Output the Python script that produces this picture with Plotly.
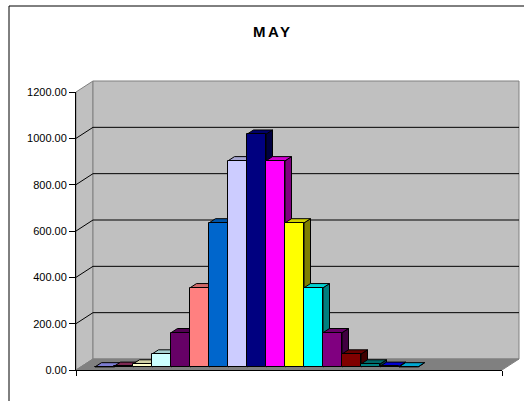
import plotly.graph_objects as go

# ---- data ----
series = [f"S{i}" for i in range(1, 18)]
values = [0.5, 3, 13, 56, 148, 342, 622, 890, 1005, 890, 622, 342, 148, 56, 13, 3, 0.5]
colors = ["#9999FF", "#993366", "#FFFFCC", "#CCFFFF", "#660066", "#FF8080",
          "#0066CC", "#CCCCFF", "#000080", "#FF00FF", "#FFFF00", "#00FFFF",
          "#800080", "#800000", "#008080", "#0000FF", "#00CCFF"]
y_ticks = [0, 200, 400, 600, 800, 1000, 1200]
title = "MAY"

# ---- geometry (pixels) ----
FW, FH = 524, 401
PL, PR, PT, PB = 76, 502, 92, 370      # front plane of the 3D box
W, H = PR - PL, PB - PT
YMAX = 1200
WDX, WDY = 17, 11                      # depth offset of back wall
BAR_PX = 19                            # bar width in pixels
BAR_START = 95                         # pixel left edge of first bar
BAR_LIFT = 3                           # bars sit slightly behind the front plane
BDX, BDY = 6.5, 4.2                    # bar depth offset
px_per_unit = H / YMAX


def shade(hexc, f):
    h = hexc.lstrip("#")
    r, g, b = (int(h[i:i + 2], 16) for i in (0, 2, 4))
    return "rgb(%d,%d,%d)" % (r * f, g * f, b * f)


def pxx(px):
    return (px - PL) / W


def pxy(py):
    return (PB - py) / H


shapes = []
WALL = "#C0C0C0"
EDGE = "#808080"
dxp = WDX / W
dyp = WDY / H

# left wall
shapes.append(dict(type="path", xref="paper", yref="paper", layer="below",
                   path=f"M 0,0 L 0,1 L {dxp},{1 + dyp} L {dxp},{dyp} Z",
                   fillcolor=WALL, line=dict(color=EDGE, width=1)))
# back wall
shapes.append(dict(type="rect", xref="paper", yref="paper", layer="below",
                   x0=dxp, x1=1 + dxp, y0=dyp, y1=1 + dyp,
                   fillcolor=WALL, line=dict(color=EDGE, width=1)))
# floor
shapes.append(dict(type="path", xref="paper", yref="paper", layer="below",
                   path=f"M 0,0 L 1,0 L {1 + dxp},{dyp} L {dxp},{dyp} Z",
                   fillcolor="#808080", line=dict(color=EDGE, width=1)))
# gridlines on walls
for v in y_ticks[1:-1]:
    yf = v / YMAX
    shapes.append(dict(type="path", xref="paper", yref="paper", layer="below",
                       path=f"M 0,{yf} L {dxp},{yf + dyp} L {1 + dxp},{yf + dyp}",
                       line=dict(color="#000000", width=1)))

# bar side and top faces (in bar-axis coordinates)
dxu = BDX / BAR_PX
dyu = BDY / px_per_unit
for i, (v, c) in enumerate(zip(values, colors)):
    x0, x1 = i - 0.5, i + 0.5
    shapes.append(dict(type="path", xref="x2", yref="y2", layer="below",
                       path=f"M {x1},0 L {x1},{v} L {x1 + dxu},{v + dyu} L {x1 + dxu},{dyu} Z",
                       fillcolor=shade(c, 0.5), line=dict(color="black", width=1)))
    shapes.append(dict(type="path", xref="x2", yref="y2", layer="below",
                       path=f"M {x0},{v} L {x1},{v} L {x1 + dxu},{v + dyu} L {x0 + dxu},{v + dyu} Z",
                       fillcolor=shade(c, 0.82), line=dict(color="black", width=1)))

# outer chart frame (extends beyond the visible crop)
shapes.append(dict(type="rect", xref="paper", yref="paper", layer="below",
                   x0=pxx(9), x1=pxx(FW + 40), y0=pxy(FH + 40), y1=pxy(6),
                   fillcolor="rgba(0,0,0,0)", line=dict(color="black", width=1)))

fig = go.Figure()
fig.add_trace(go.Scatter(x=[None], y=[None], showlegend=False, hoverinfo="skip"))
fig.add_trace(go.Bar(x=list(range(len(values))), y=values, width=1,
                     text=series, textposition="none", hoverinfo="y",
                     marker=dict(color=colors, line=dict(color="black", width=1)),
                     xaxis="x2", yaxis="y2", showlegend=False))

x2_lo = -0.5 - (BAR_START - PL) / BAR_PX
y2_lo = -BAR_LIFT / px_per_unit

font_family = "Liberation Sans, Arial, sans-serif"
fig.update_layout(
    width=FW, height=FH, autosize=False,
    margin=dict(l=PL, r=FW - PR, t=PT, b=FH - PB, pad=0),
    paper_bgcolor="white", plot_bgcolor="rgba(0,0,0,0)",
    font=dict(family=font_family, color="black", size=11),
    showlegend=False,
    bargap=0,
    xaxis=dict(range=[0, 1], showgrid=False, zeroline=False, showline=True,
               linecolor="black", linewidth=1, tickvals=[0, 1], ticks="outside",
               ticklen=5, tickcolor="black", showticklabels=False, fixedrange=True),
    yaxis=dict(range=[0, YMAX], tickvals=y_ticks, tickformat=".2f", showgrid=False,
               zeroline=False, showline=True, linecolor="black", linewidth=1,
               ticks="outside", ticklen=6, tickcolor="black",
               tickfont=dict(size=11, color="black", family=font_family), fixedrange=True),
    xaxis2=dict(overlaying="x", range=[x2_lo, x2_lo + W / BAR_PX], visible=False,
                fixedrange=True),
    yaxis2=dict(overlaying="y", range=[y2_lo, y2_lo + H / px_per_unit], visible=False,
                fixedrange=True),
    shapes=shapes,
    annotations=[dict(xref="paper", yref="paper", x=pxx(272), y=pxy(31),
                      xanchor="center", yanchor="middle", showarrow=False,
                      text=f"<b><span style='letter-spacing:2.5px'>{title}</span></b>",
                      font=dict(size=15, color="black", family=font_family))],
)

fig.write_html("out.html", config={"displayModeBar": False},
               post_script="document.body.style.margin='0';document.body.style.overflow='hidden';")
